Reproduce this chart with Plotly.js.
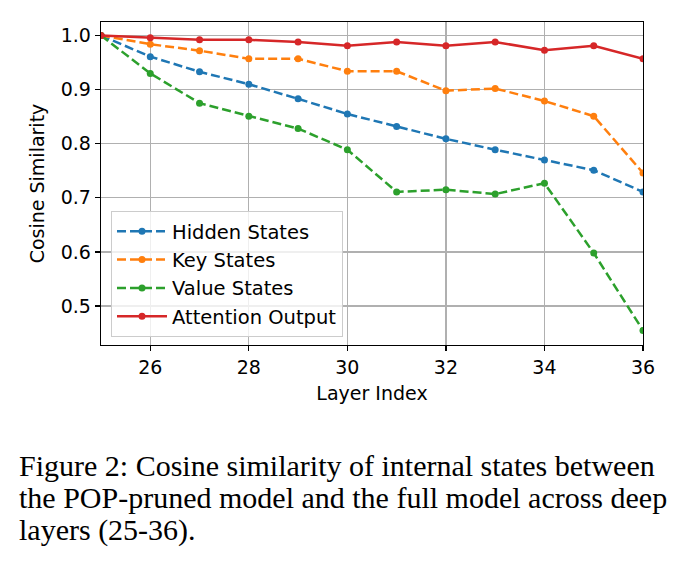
<!DOCTYPE html>
<html>
<head>
<meta charset="utf-8">
<script src="https://cdn.plot.ly/plotly-3.0.1.min.js"></script>
<style>html,body{margin:0;padding:0;background:#fff;}#chart{width:686px;height:568px;}</style>
</head>
<body>
<div id="chart"></div>
<script>
const layers = [25, 26, 27, 28, 29, 30, 31, 32, 33, 34, 35, 36];
const hiddenStates = [1.0, 0.961, 0.933, 0.910, 0.883, 0.855, 0.832, 0.809, 0.789, 0.770, 0.751, 0.711];
const keyStates = [1.0, 0.984, 0.972, 0.957, 0.957, 0.934, 0.934, 0.898, 0.902, 0.879, 0.851, 0.746];
const valueStates = [1.0, 0.930, 0.875, 0.851, 0.828, 0.789, 0.711, 0.715, 0.707, 0.727, 0.598, 0.455];
const attentionOutput = [1.0, 0.996, 0.992, 0.992, 0.988, 0.981, 0.988, 0.981, 0.988, 0.973, 0.981, 0.957];
const seriesNames = ["Hidden States", "Key States", "Value States", "Attention Output"];
const xTicks = [26, 28, 30, 32, 34, 36];
const yTicks = [0.5, 0.6, 0.7, 0.8, 0.9, 1.0];
const captionLines = [
  "Figure 2: Cosine similarity of internal states between",
  "the POP-pruned model and the full model across deep",
  "layers (25-36)."
];

const colors = ["#1f77b4", "#ff7f0e", "#2ca02c", "#d62728"];
const dashes = ["9px,4px", "9px,4px", "9px,4px", "solid"];
const values = [hiddenStates, keyStates, valueStates, attentionOutput];

const traces = values.map((v, i) => ({
  x: layers, y: v, name: seriesNames[i], type: "scatter", mode: "lines+markers",
  line: {color: colors[i], width: 2.5, dash: dashes[i]},
  marker: {color: colors[i], size: 7},
  cliponaxis: true
}));

const font = {family: "DejaVu Sans", size: 19, color: "#000"};
const legendFont = {family: "DejaVu Sans", size: 19.5, color: "#000"};
const L = 101, R = 643, T = 22, B = 345;
const pw = R - L;
const toPaperX = px => (px - L) / pw;

const annotations = captionLines.map((t, i) => ({
  text: t, xref: "paper", yref: "paper",
  x: toPaperX(17), xanchor: "left",
  y: -(465 + i * 32.5 - B) / (B - T), yanchor: "middle",
  showarrow: false,
  font: {family: "Liberation Serif", size: 30, color: "#000"}
}));

const layout = {
  width: 686, height: 568,
  margin: {l: L, r: 686 - R, t: T, b: 568 - B, pad: 0},
  paper_bgcolor: "#fff", plot_bgcolor: "#fff",
  font: font,
  showlegend: true,
  legend: {
    x: toPaperX(111), y: (B - 337) / (B - T), xanchor: "left", yanchor: "bottom",
    bgcolor: "rgba(255,255,255,0.8)", bordercolor: "#cccccc", borderwidth: 1,
    itemwidth: 50,
    font: legendFont
  },
  xaxis: {
    range: [25, 36], tickvals: xTicks, ticktext: xTicks.map(String),
    showgrid: true, gridcolor: "#b0b0b0", gridwidth: 1.2,
    zeroline: false, showline: true, linecolor: "#000", linewidth: 1.3, mirror: true,
    ticks: "outside", ticklen: 5, tickcolor: "#000", tickwidth: 1.2,
    tickfont: font,
    title: {text: "Layer Index", font: font, standoff: 9}
  },
  yaxis: {
    range: [0.428, 1.025], tickvals: yTicks, ticktext: yTicks.map(v => v.toFixed(1)),
    showgrid: true, gridcolor: "#b0b0b0", gridwidth: 1.2,
    zeroline: false, showline: true, linecolor: "#000", linewidth: 1.3, mirror: true,
    ticks: "outside", ticklen: 5, tickcolor: "#000", tickwidth: 1.2,
    tickfont: font,
    title: {text: "Cosine Similarity", font: font, standoff: 11}
  },
  annotations: annotations
};

Plotly.newPlot("chart", traces, layout, {displayModeBar: false, staticPlot: true});
</script>
</body>
</html>
